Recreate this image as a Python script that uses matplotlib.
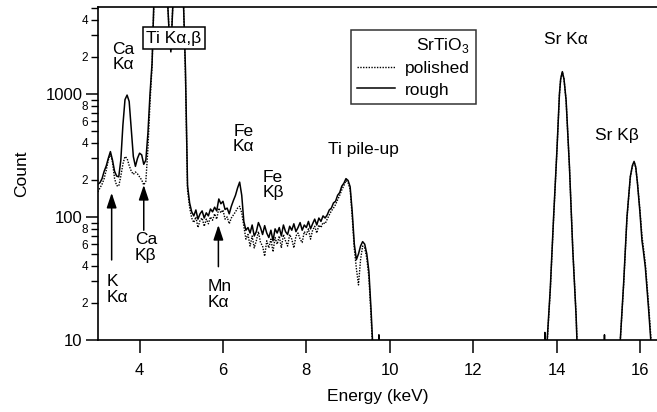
import numpy as np
import matplotlib
matplotlib.use("Agg")
import matplotlib.pyplot as plt
from matplotlib.lines import Line2D
from matplotlib.ticker import FixedLocator, FuncFormatter

plt.rcParams['font.family'] = ['Liberation Sans', 'DejaVu Sans']
plt.rcParams['mathtext.fontset'] = 'custom'
plt.rcParams['mathtext.rm'] = 'Liberation Sans'

# spectrum channels 3.00 .. 9.70 keV (0.05 keV bins)
energy_low = np.round(np.arange(3.0, 9.701, 0.05), 2)

rough_low = [
    185, 190, 205, 235, 260, 300, 340, 290, 235, 215,          # 3.00
    212, 290, 560, 900, 980, 870, 520, 310, 258, 300,          # 3.50
    330, 320, 268, 290, 480, 1000, 1800, 7000, 15000, 20000,   # 4.00
    20000, 20000, 15000, 8000, 3600, 2200, 5500, 9000, 10000, 10000,  # 4.50
    9000, 6000, 1600, 180, 130, 110, 102, 114, 96, 106,        # 5.00
    112, 98, 108, 102, 116, 110, 120, 112, 140, 128,           # 5.50
    134, 115, 118, 106, 122, 136, 150, 172, 192, 150,          # 6.00
    92, 78, 82, 74, 86, 70, 76, 90, 82, 72,                    # 6.50
    85, 74, 68, 78, 64, 80, 74, 82, 70, 86,                    # 7.00
    76, 72, 84, 78, 88, 76, 82, 90, 78, 86,                    # 7.50
    82, 92, 80, 88, 96, 86, 98, 92, 102, 98,                   # 8.00
    104, 114, 118, 130, 134, 150, 158, 178, 188, 205,          # 8.50
    198, 176, 110, 60, 45, 50, 58, 63, 60, 50,                 # 9.00
    36, 18, 8, 5, 5,                                           # 9.50
]

polished_low = [
    160, 172, 185, 205, 240, 290, 325, 280, 205, 180,          # 3.00
    178, 215, 270, 310, 300, 262, 236, 222, 232, 224,          # 3.50
    212, 200, 182, 195, 360, 850, 1700, 6500, 15000, 20000,    # 4.00
    20000, 20000, 15000, 8000, 3700, 2300, 5600, 9000, 10000, 10000,  # 4.50
    9000, 5800, 1400, 165, 120, 98, 90, 100, 82, 94,           # 5.00
    98, 84, 96, 88, 100, 94, 106, 96, 118, 108,                # 5.50
    114, 96, 100, 88, 98, 104, 110, 118, 122, 108,             # 6.00
    84, 66, 72, 58, 70, 56, 64, 76, 62, 58,                    # 6.50
    48, 64, 56, 66, 52, 68, 60, 70, 56, 72,                    # 7.00
    64, 58, 72, 66, 56, 70, 74, 66, 62, 76,                    # 7.50
    72, 80, 66, 78, 84, 74, 86, 82, 90, 88,                    # 8.00
    96, 104, 112, 118, 126, 138, 150, 166, 180, 198,           # 8.50
    190, 168, 100, 55, 38, 28, 45, 58, 56, 46,                 # 9.00
    32, 16, 7, 5, 5,                                           # 9.50
]

# high-energy part (Sr K lines), irregular channels
energy_high = [9.735, 9.74, 9.745,
               13.70, 13.715, 13.72, 13.725, 13.76, 13.78, 13.85, 13.93, 14.01, 14.07,
               14.10, 14.14, 14.18, 14.23, 14.31, 14.39, 14.47, 14.50, 14.55,
               15.145, 15.15, 15.155,
               15.50, 15.53, 15.61, 15.69, 15.77, 15.82, 15.86, 15.90, 15.94, 16.00,
               16.05, 16.08, 16.13, 16.21, 16.26, 16.30, 16.40]
rough_high = [5, 11, 5,
              5, 5, 11.5, 5, 5, 10.5, 26, 100, 350, 1000,
              1330, 1520, 1320, 890, 257, 54, 15.5, 8, 5,
              5, 11, 5,
              5, 10, 29, 100, 213, 262, 283, 255, 190, 110,
              64, 54, 39, 17.5, 10, 6, 5]
polished_high = [5, 10.5, 5,
                 5, 5, 5, 5, 5, 10, 25, 97, 345, 990,
                 1320, 1510, 1310, 880, 255, 55, 16, 8, 5,
                 5, 5, 5,
                 5, 10, 28, 98, 210, 258, 280, 252, 192, 115,
                 70, 58, 42, 19, 11, 6, 5]

fig = plt.figure(figsize=(6.57, 4.12), dpi=100)
ax = fig.add_axes([0.149, 0.175, 0.851, 0.808])

dot = (0, (1, 1))
ax.plot(energy_low, polished_low, color='black', lw=1.0, ls=dot)
ax.plot(energy_high, polished_high, color='black', lw=1.0, ls=dot)
ax.plot(energy_low, rough_low, color='black', lw=1.1)
ax.plot(energy_high, rough_high, color='black', lw=1.1)

ax.set_yscale('log')
ax.set_xlim(3.0, 16.41)
ax.set_ylim(10, 5100)

ax.set_xticks([4, 6, 8, 10, 12, 14, 16])
ax.yaxis.set_major_locator(FixedLocator([10, 100, 1000]))
ax.yaxis.set_minor_locator(FixedLocator([20, 30, 40, 50, 60, 70, 80, 90,
                                         200, 300, 400, 500, 600, 700, 800, 900,
                                         2000, 3000, 4000, 5000]))
ax.yaxis.set_major_formatter(FuncFormatter(lambda v, p: f'{int(round(v))}'))


def minor_fmt(v, p):
    lead = int(round(v / 10 ** np.floor(np.log10(v))))
    return str(lead) if lead in (2, 4, 6, 8) else ''


ax.yaxis.set_minor_formatter(FuncFormatter(minor_fmt))

ax.tick_params(axis='x', which='major', direction='out', length=9, width=1.1, labelsize=12, pad=7.5)
ax.tick_params(axis='x', which='minor', bottom=False)
ax.tick_params(axis='y', which='major', direction='out', length=9, width=1.1, labelsize=12, pad=2)
ax.tick_params(axis='y', which='minor', direction='out', length=5, width=1.0, labelsize=8.5, pad=2)

ax.spines['right'].set_visible(False)
for s in ('left', 'bottom', 'top'):
    ax.spines[s].set_linewidth(1.2)

ax.set_xlabel('Energy (keV)', fontsize=12.5, labelpad=8)
ax.set_ylabel('Count', fontsize=12.5, labelpad=12)

fs = 12.5
ax.text(3.61, 2650, 'Ca\nKα', fontsize=fs, ha='center', va='top', linespacing=1.0)
ax.text(4.82, 2850, 'Ti Kα,β', fontsize=fs, ha='center', va='center', zorder=5,
        bbox=dict(boxstyle='square,pad=0.2', fc='white', ec='black', lw=1.1))
ax.text(6.50, 570, 'Fe\nKα', fontsize=fs, ha='center', va='top', linespacing=1.0)
ax.text(7.20, 241, 'Fe\nKβ', fontsize=fs, ha='center', va='top', linespacing=1.0)
ax.text(9.36, 351, 'Ti pile-up', fontsize=fs, ha='center', va='center')
ax.text(14.23, 2750, 'Sr Kα', fontsize=fs, ha='center', va='center')
ax.text(15.46, 464, 'Sr Kβ', fontsize=fs, ha='center', va='center')
ax.text(3.22, 34.4, 'K\nKα', fontsize=fs, ha='left', va='top', linespacing=1.1)
ax.text(3.89, 75, 'Ca\nKβ', fontsize=fs, ha='left', va='top', linespacing=1.05)
ax.text(5.62, 31.3, 'Mn\nKα', fontsize=fs, ha='left', va='top', linespacing=1.05)

# arrows: (energy, tip, tail)
arrows = [(3.33, 157, 44.7), (4.10, 182, 78), (5.89, 86, 39.4)]
for x, tip, tail in arrows:
    ax.annotate('', xy=(x, tip), xytext=(x, tail),
                arrowprops=dict(arrowstyle='-|>,head_length=0.6,head_width=0.2',
                                color='black', lw=1.1, mutation_scale=15,
                                shrinkA=0, shrinkB=0))

handles = [Line2D([], [], color='black', lw=1.0, ls=dot),
           Line2D([], [], color='black', lw=1.1)]
leg = ax.legend(handles, ['polished', 'rough'], title='SrTiO$_3$',
                loc='upper left', bbox_to_anchor=(0.452, 0.931), borderaxespad=0,
                fontsize=12.5, title_fontsize=12.5, alignment='right',
                frameon=True, fancybox=False, edgecolor='black',
                handlelength=2.2, handletextpad=0.6, labelspacing=0.35,
                borderpad=0.35)
leg.get_frame().set_linewidth(1.1)

fig.savefig('out.png', dpi=100)
